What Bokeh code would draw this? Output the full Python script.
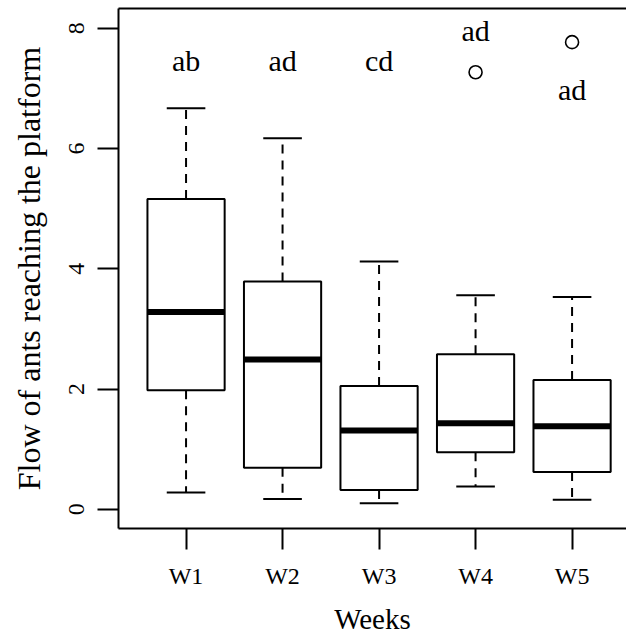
import math
from bokeh.plotting import figure
from bokeh.models import LinearAxis, FixedTicker, Range1d, ColumnDataSource
from bokeh.core.properties import value
from bokeh.embed import file_html
from bokeh.resources import INLINE

# ---- data ----
weeks = ["W1", "W2", "W3", "W4", "W5"]
lower_whisker = [0.28, 0.17, 0.10, 0.38, 0.16]
q1 = [1.98, 0.69, 0.32, 0.95, 0.62]
median = [3.28, 2.49, 1.31, 1.43, 1.38]
q3 = [5.16, 3.79, 2.05, 2.58, 2.15]
upper_whisker = [6.67, 6.17, 4.12, 3.56, 3.53]
outlier_week = ["W4", "W5"]
outlier_value = [7.27, 7.77]
group_letters = ["ab", "ad", "cd", "ad", "ad"]
letter_y = [7.46, 7.46, 7.46, 7.97, 6.98]
y_ticks = [0, 2, 4, 6, 8]

FONT = "Liberation Serif"
BOX_W = 0.8
CAP_W = 0.4

x = [i + 1 for i in range(len(weeks))]
src = ColumnDataSource(dict(
    x=x,
    lo=lower_whisker, q1=q1, med=median, q3=q3, hi=upper_whisker,
    bl=[v - BOX_W / 2 for v in x], br=[v + BOX_W / 2 for v in x],
    cl=[v - CAP_W / 2 for v in x], cr=[v + CAP_W / 2 for v in x],
    letters=group_letters, ly=letter_y,
))
out_src = ColumnDataSource(dict(
    x=[weeks.index(w) + 1 for w in outlier_week], y=outlier_value))

p = figure(width=626, height=638,
           x_range=Range1d(0.3, 5.564), y_range=Range1d(-0.32, 8.33),
           output_backend="svg", toolbar_location=None,
           min_border_left=118, min_border_right=0,
           min_border_top=8, min_border_bottom=110)
p.grid.visible = False
p.outline_line_color = None
p.background_fill_color = "white"
p.border_fill_color = "white"

# whiskers
p.segment(x0="x", y0="q3", x1="x", y1="hi", source=src, line_color="black",
          line_width=2, line_dash="9 7")
p.segment(x0="x", y0="q1", x1="x", y1="lo", source=src, line_color="black",
          line_width=2, line_dash="9 7")
# caps
p.segment(x0="cl", y0="hi", x1="cr", y1="hi", source=src, line_color="black", line_width=2)
p.segment(x0="cl", y0="lo", x1="cr", y1="lo", source=src, line_color="black", line_width=2)
# boxes
p.vbar(x="x", width=BOX_W, bottom="q1", top="q3", source=src,
       fill_color="white", line_color="black", line_width=2)
# medians
p.segment(x0="bl", y0="med", x1="br", y1="med", source=src, line_color="black",
          line_width=6, line_cap="butt")
# outliers
p.scatter(x="x", y="y", source=out_src, marker="circle", size=13,
          fill_color=None, line_color="black", line_width=1.6)
# letters
p.text(x="x", y="ly", text="letters", source=src,
       text_font=value(FONT), text_font_size=value("30px"),
       text_align="center", text_baseline="alphabetic", text_color="black")

# axes
for ax in (p.xaxis[0], p.yaxis[0]):
    ax.axis_line_width = 2
    ax.axis_line_color = "black"
    ax.major_tick_line_width = 2
    ax.major_tick_line_color = "black"
    ax.major_tick_out = 21
    ax.major_tick_in = 0
    ax.minor_tick_line_color = None
    ax.major_label_text_font = FONT
    ax.major_label_text_font_size = "24px"
    ax.major_label_text_color = "black"
    ax.axis_label_text_font = FONT
    ax.axis_label_text_font_style = "normal"
    ax.axis_label_text_color = "black"

p.xaxis.ticker = FixedTicker(ticks=x)
p.xaxis.major_label_overrides = {v: w for v, w in zip(x, weeks)}
p.xaxis.axis_label = "Weeks"
p.xaxis.axis_label_text_font_size = "29px"
p.xaxis.major_label_standoff = 13
p.xaxis.axis_label_standoff = 11

p.yaxis.ticker = FixedTicker(ticks=y_ticks)
p.yaxis.major_label_orientation = "parallel"
p.yaxis.axis_label = "Flow of ants reaching the platform"
p.yaxis.axis_label_text_font_size = "32px"
p.yaxis.major_label_standoff = 13
p.yaxis.axis_label_standoff = 20

top = LinearAxis(ticker=FixedTicker(ticks=[]), major_tick_out=0, major_tick_in=0,
                 minor_tick_line_color=None, major_label_text_font_size="0px",
                 major_label_standoff=0, axis_line_width=2, axis_line_color="black")
p.add_layout(top, "above")

open("out.html", "w").write(file_html(p, INLINE))
